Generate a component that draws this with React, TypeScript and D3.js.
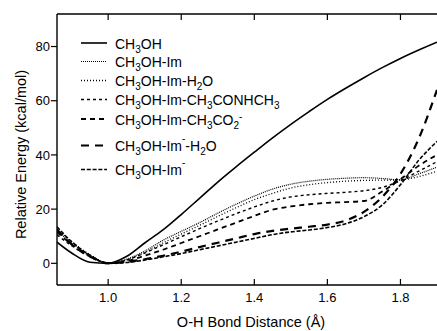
import React from 'react';
import * as d3 from 'd3';

// bond distance grid (Å)
const xValues = [0.86, 0.9, 0.95, 1.0, 1.05, 1.1, 1.15, 1.2, 1.25, 1.3, 1.35, 1.4, 1.45, 1.5, 1.55, 1.6, 1.65, 1.7, 1.75, 1.8, 1.85, 1.9];

// relative energies (kcal/mol)
const ch3oh = [7.8, 3.8, 0.4, 0, 2.5, 7.5, 12.3, 18, 24, 30, 35.6, 41, 46.3, 51.3, 56, 60.5, 64.6, 68.5, 72.2, 75.6, 78.7, 81.6];
const im = [12, 7.5, 3, 0, 1.5, 4.5, 8.5, 11.8, 15, 18.5, 21.8, 24.8, 27.4, 29.2, 30.3, 31, 31.4, 31.6, 31.3, 30.8, 33, 35.5];
const imH2O = [12.5, 8, 3.2, 0, 1.3, 4, 7.5, 10.8, 14, 17.3, 20.5, 23.5, 25.8, 27.8, 29, 29.8, 30.3, 30.6, 30.7, 30.8, 32, 34];
const imConh = [10.5, 6.5, 2.5, 0, 1.2, 3.8, 6.8, 9.8, 12.8, 15.6, 18.3, 20.8, 23, 24.5, 25.3, 25.8, 26.2, 26.8, 28, 30.5, 34, 37.5];
const imCo2 = [11.5, 7, 2.8, 0, 0.8, 2.8, 5, 7.5, 10, 12.5, 15, 17.5, 19.8, 21, 21.8, 22.3, 22.6, 23, 26.5, 31, 36, 40];
const imAnionH2O = [12.5, 7, 2.5, 0, 0.5, 1.5, 2.8, 4.3, 6, 7.6, 9.2, 10.8, 12, 12.8, 13.5, 14.3, 15.8, 19, 24.5, 33, 46, 64];
const imAnion = [13.5, 8, 3, 0, 0.3, 1.2, 2.4, 3.6, 5, 6.4, 7.8, 9.2, 10.6, 11.6, 12.3, 13.2, 14.6, 17.2, 21.5, 29, 38, 45];

const xTicks = [1.0, 1.2, 1.4, 1.6, 1.8];
const yTicks = [0, 20, 40, 60, 80];

// label pieces: [text, kind]
type Piece = [string, '' | 'sub' | 'sup'];
const series: { label: Piece[]; values: number[]; dash: string; width: number }[] = [
  { label: [['CH', ''], ['3', 'sub'], ['OH', '']], values: ch3oh, dash: 'none', width: 1.6 },
  { label: [['CH', ''], ['3', 'sub'], ['OH-Im', '']], values: im, dash: '1,1', width: 1.2 },
  { label: [['CH', ''], ['3', 'sub'], ['OH-Im-H', ''], ['2', 'sub'], ['O', '']], values: imH2O, dash: '1,2', width: 1.3 },
  { label: [['CH', ''], ['3', 'sub'], ['OH-Im-CH', ''], ['3', 'sub'], ['CONHCH', ''], ['3', 'sub']], values: imConh, dash: '3,3', width: 1.4 },
  { label: [['CH', ''], ['3', 'sub'], ['OH-Im-CH', ''], ['3', 'sub'], ['CO', ''], ['2', 'sub'], ['-', 'sup']], values: imCo2, dash: '5,4', width: 1.8 },
  { label: [['CH', ''], ['3', 'sub'], ['OH-Im', ''], ['-', 'sup'], ['-H', ''], ['2', 'sub'], ['O', '']], values: imAnionH2O, dash: '8,6', width: 2.2 },
  { label: [['CH', ''], ['3', 'sub'], ['OH-Im', ''], ['-', 'sup']], values: imAnion, dash: '4,1.8', width: 1.6 },
];

const legendBaselines = [48.5, 67, 86, 105, 124.5, 151, 175];

const font = '"Liberation Sans", Arial, Helvetica, sans-serif';

export default function App() {
  const W = 437;
  const H = 331;
  const left = 57, right = 437, top = 14, bottom = 285;

  const x = d3.scaleLinear().domain([0.86, 1.9]).range([left, right]);
  const y = d3.scaleLinear().domain([-8, 92]).range([bottom, top]);

  const line = d3.line<number>()
    .x((_, i) => x(xValues[i]))
    .y(d => y(d))
    .curve(d3.curveMonotoneX);

  const renderLabel = (pieces: Piece[]) =>
    pieces.map(([t, kind], i) => {
      if (kind === 'sub') return <tspan key={i} fontSize={10} dy={4}>{t}</tspan>;
      if (kind === 'sup') return <tspan key={i} fontSize={10} dy={-9}>{t}</tspan>;
      // come back to the baseline after a sub/sup
      const prev = i > 0 ? pieces[i - 1][1] : '';
      const dy = prev === 'sub' ? -4 : prev === 'sup' ? 9 : 0;
      return <tspan key={i} dy={dy}>{t}</tspan>;
    });

  return (
    <svg width={W} height={H} style={{ position: 'absolute', left: 0, top: 0, background: '#fff' }} fontFamily={font}>
      <defs>
        <clipPath id="plot">
          <rect x={left} y={top} width={right - left} height={bottom - top} />
        </clipPath>
      </defs>

      {/* curves */}
      <g clipPath="url(#plot)" fill="none" stroke="#000">
        {series.map((s, i) => (
          <path key={i} d={line(s.values) || ''} strokeWidth={s.width} strokeDasharray={s.dash} />
        ))}
      </g>

      {/* frame */}
      <g stroke="#000" strokeWidth={1.4} fill="none">
        <line x1={left} x2={left} y1={top} y2={bottom} />
        <line x1={left} x2={right} y1={bottom} y2={bottom} />
        <line x1={left} x2={right} y1={top} y2={top} />
      </g>

      {/* x ticks: inward on bottom and top */}
      {xTicks.map(t => (
        <g key={t}>
          <line x1={x(t)} x2={x(t)} y1={bottom} y2={bottom - 6} stroke="#000" strokeWidth={1.2} />
          <line x1={x(t)} x2={x(t)} y1={top} y2={top + 6} stroke="#000" strokeWidth={1.2} />
          <text x={x(t)} y={302} fontSize={13} textAnchor="middle">{t.toFixed(1)}</text>
        </g>
      ))}

      {/* y ticks: outward on left */}
      {yTicks.map(t => (
        <g key={t}>
          <line x1={left - 6} x2={left} y1={y(t)} y2={y(t)} stroke="#000" strokeWidth={1.2} />
          <text x={left - 7} y={y(t) + 4.6} fontSize={13} textAnchor="end">{t}</text>
        </g>
      ))}

      {/* axis titles */}
      <text x={251} y={327} fontSize={14.5} textAnchor="middle">O-H Bond Distance (Å)</text>
      <text transform={`translate(26,${(top + bottom) / 2 + 5}) rotate(-90)`} fontSize={14.5} textAnchor="middle">
        Relative Energy (kcal/mol)
      </text>

      {/* legend */}
      {series.map((s, i) => (
        <g key={i}>
          <line x1={81} x2={107} y1={legendBaselines[i] - 5.5} y2={legendBaselines[i] - 5.5}
            stroke="#000" strokeWidth={s.width} strokeDasharray={s.dash} />
          <text x={115} y={legendBaselines[i]} fontSize={14}>{renderLabel(s.label)}</text>
        </g>
      ))}
    </svg>
  );
}
